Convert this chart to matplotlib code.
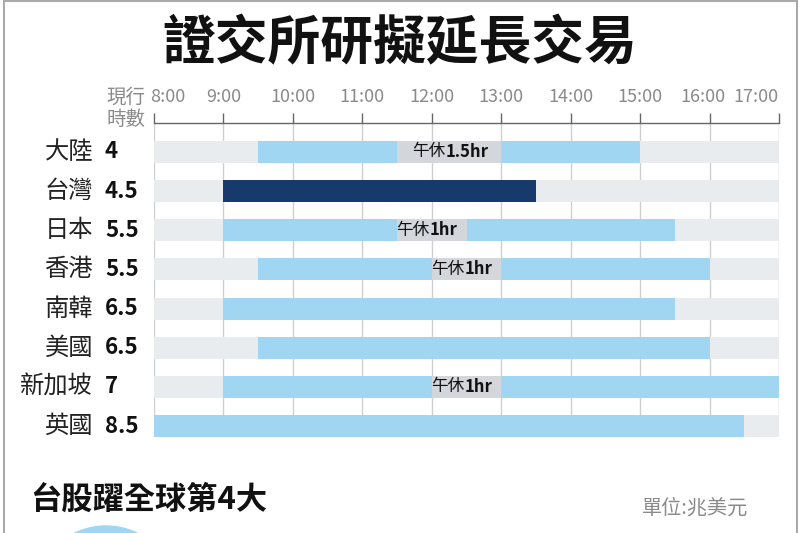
import matplotlib
matplotlib.use('Agg')
import matplotlib.pyplot as plt
from matplotlib.lines import Line2D
from matplotlib.patches import Circle
from matplotlib.transforms import IdentityTransform, offset_copy

plt.rcParams['font.family'] = ['Noto Sans CJK TC', 'DejaVu Sans']

# Data
markets = ['大陸', '台灣', '日本', '香港', '南韓', '美國', '新加坡', '英國']
hours_now = ['4', '4.5', '5.5', '5.5', '6.5', '6.5', '7', '8.5']
open_time = [9.5, 9, 9, 9.5, 9, 9.5, 9, 8]
close_time = [15, 13.5, 15.5, 16, 15.5, 16, 17, 16.5]
lunch_start = [11.5, None, 11.5, 12, None, None, 12, None]
lunch_end = [13, None, 12.5, 13, None, None, 13, None]
lunch_text = ['1.5hr', '', '1hr', '1hr', '', '', '1hr', '']
tick_hours = list(range(8, 18))
tick_labels = [f'{h}:00' for h in tick_hours]

# Colors
bg_gray = '#e9ecef'
light_blue = '#a0d6f2'
navy = '#153a6b'
lunch_gray = '#d3d7db'

fig = plt.figure(figsize=(7.99, 5.33), dpi=100)
W, H = 799, 533
ax = fig.add_axes([154 / W, 1 - 437 / H, 625 / W, 314 / H])

rows = list(range(len(markets)))
bar_h = 0.56

ax.barh(rows, 9, left=8, height=bar_h, color=bg_gray, zorder=2)
for i in rows:
    c = navy if markets[i] == '台灣' else light_blue
    ax.barh(i, close_time[i] - open_time[i], left=open_time[i], height=bar_h, color=c, zorder=3)
    if lunch_start[i] is not None:
        ax.barh(i, lunch_end[i] - lunch_start[i], left=lunch_start[i], height=bar_h,
                color=lunch_gray, zorder=4)
        xc = (lunch_start[i] + lunch_end[i]) / 2
        split = offset_copy(ax.transData, fig=fig, x=-4 if lunch_text[i] == '1.5hr' else -2,
                            y=0, units='dots')
        ax.text(xc, i, '午休', transform=split, ha='right', va='center', fontsize=12,
                color='#111111', zorder=5)
        ax.text(xc, i, lunch_text[i], transform=split, ha='left', va='center', fontsize=12,
                fontweight='bold', color='#111111', zorder=5)

# grid and axis
for h in tick_hours:
    ax.axvline(h, color='#cfcfcf', lw=1, zorder=1)
ax.set_xlim(8, 17)
ax.set_ylim(7.28, -0.74)
ax.xaxis.tick_top()
ax.set_xticks(tick_hours)
ax.set_xticklabels(tick_labels, fontsize=13, color='#8a8a8a', fontweight='light')
ax.tick_params(axis='x', direction='out', length=7, width=1, color='#666666', pad=5)
labels = ax.get_xticklabels()
labels[0].set_horizontalalignment('left')
labels[0].set_transform(labels[0].get_transform() + offset_copy(
    IdentityTransform(), fig=fig, x=-4, y=0, units='dots'))
labels[-2].set_transform(labels[-2].get_transform() + offset_copy(
    IdentityTransform(), fig=fig, x=-7, y=0, units='dots'))
labels[-1].set_horizontalalignment('right')
ax.set_yticks([])
for s in ['left', 'right', 'bottom']:
    ax.spines[s].set_visible(False)
ax.spines['top'].set_color('#666666')
ax.spines['top'].set_linewidth(1)

# row labels
for i in rows:
    ax.text(7.122, i, markets[i], ha='right', va='center', fontsize=17.5, color='#222222',
            clip_on=False)
    ax.text(7.294, i, hours_now[i], ha='left', va='center', fontsize=16, fontweight='bold',
            color='#111111', clip_on=False)
ax.text(7.32, -1.405, '現行', ha='left', va='center', fontsize=14, color='#8a8a8a', clip_on=False)
ax.text(7.32, -0.82, '時數', ha='left', va='center', fontsize=14, color='#8a8a8a', clip_on=False)

# titles
fig.text(400 / W, 1 - 44 / H, '證交所研擬延長交易', ha='center', va='center', fontsize=38,
         fontweight='bold', color='#111111')
fig.text(30 / W, 1 - 500 / H, '台股躍全球第4大', ha='left', va='center', fontsize=22.5,
         fontweight='bold', color='#111111')
fig.text(748 / W, 1 - 508 / H, '單位:兆美元', ha='right', va='center', fontsize=14.5,
         color='#8a8a8a')

# decorative circle and frame
fig.add_artist(Circle((106, H - 598), 72, transform=IdentityTransform(), color=light_blue))
fig.add_artist(Line2D([4 / W, 4 / W], [0, 1 - 1 / H], color='#aaaaaa', lw=1.5))
fig.add_artist(Line2D([797 / W, 797 / W], [0, 1 - 1 / H], color='#aaaaaa', lw=1.5))
fig.add_artist(Line2D([4 / W, 797 / W], [1 - 1 / H, 1 - 1 / H], color='#aaaaaa', lw=1.5))

fig.savefig('out.png', dpi=100)
